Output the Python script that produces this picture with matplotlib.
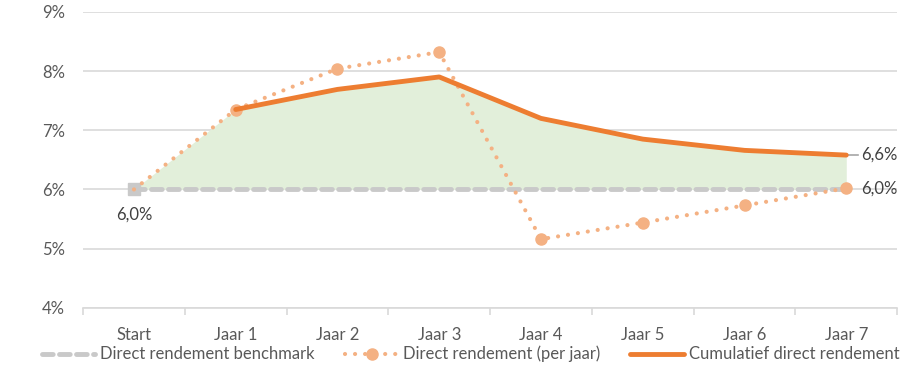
import numpy as np
import matplotlib.pyplot as plt
from matplotlib.ticker import FixedLocator, FuncFormatter

plt.rcParams['font.family'] = ['Lato', 'DejaVu Sans']

categories = ["Start", "Jaar 1", "Jaar 2", "Jaar 3", "Jaar 4", "Jaar 5", "Jaar 6", "Jaar 7"]
benchmark = [6.0, 6.0, 6.0, 6.0, 6.0, 6.0, 6.0, 6.0]
direct_per_jaar = [6.0, 7.35, 8.04, 8.32, 5.16, 5.44, 5.73, 6.02]
cumulatief = [6.0, 7.35, 7.69, 7.90, 7.20, 6.85, 6.66, 6.58]

GRID = "#D9D9D9"
TXT = "#595959"
FS = 12

fig = plt.figure(figsize=(9.23, 3.70), dpi=100)
ax = fig.add_axes([0.09, 0.168, 0.882, 0.80])
x = np.arange(len(categories))

ax.fill_between(x, benchmark, cumulatief, color="#E2EFDA", lw=0, zorder=1)
ax.plot(x, benchmark, color="#C9C9C9", lw=3.5, dashes=(2.2, 1.3), solid_capstyle="round",
        dash_capstyle="round", zorder=2, label="Direct rendement benchmark")
ax.plot(x[:1], benchmark[:1], marker="s", ms=9, color="#C9C9C9", ls="none", zorder=3)
ax.plot(x, direct_per_jaar, color="#F4B183", lw=3, ls=(0, (0.01, 2.4)), dash_capstyle="round",
        marker="o", ms=8, markevery=range(1, len(x)), zorder=3, label="Direct rendement (per jaar)")
ax.plot(x[1:], cumulatief[1:], color="#ED7D31", lw=3.5, solid_capstyle="round", zorder=4,
        label="Cumulatief direct rendement")

# labels
fmt = lambda v: f"{v:.1f}%".replace(".", ",")
ax.text(x[0], benchmark[0] - 0.42, fmt(benchmark[0]), ha="center", va="center", fontsize=FS, color="#404040")
ax.plot([x[-1], x[-1] + 0.12], [cumulatief[-1], cumulatief[-1]], color="#A6A6A6", lw=1.2, zorder=3)
ax.text(x[-1] + 0.15, cumulatief[-1], fmt(cumulatief[-1]), ha="left", va="center", fontsize=FS, color="#404040")
ax.text(x[-1] + 0.15, direct_per_jaar[-1], fmt(6.0), ha="left", va="center", fontsize=FS, color="#404040")

ax.set_xlim(-0.5, len(categories) - 0.5)
ax.set_ylim(4, 9)
ax.set_yticks([4, 5, 6, 7, 8, 9])
ax.yaxis.set_major_formatter(FuncFormatter(lambda v, p: f"{v:.0f}%"))
ax.grid(axis="y", color=GRID, lw=1.2)
ax.set_axisbelow(True)
ax.set_xticks(x)
ax.set_xticklabels(categories)
ax.xaxis.set_minor_locator(FixedLocator(np.arange(-0.5, len(categories), 1.0)))
ax.tick_params(axis="x", which="major", length=0, pad=14, labelsize=FS, labelcolor=TXT)
ax.tick_params(axis="x", which="minor", length=5, color=GRID, width=1.2)
ax.tick_params(axis="y", length=0, pad=13, labelsize=FS, labelcolor=TXT)
for s in ["top", "right", "left"]:
    ax.spines[s].set_visible(False)
ax.spines["bottom"].set_color(GRID)
ax.spines["bottom"].set_linewidth(1.2)

fig.legend(loc="lower center", bbox_to_anchor=(0.51, -0.02), ncol=3, frameon=False, fontsize=FS,
           labelcolor=TXT, handlelength=3.2, handletextpad=0.3, columnspacing=1.8)

fig.savefig("out.png", dpi=100)
